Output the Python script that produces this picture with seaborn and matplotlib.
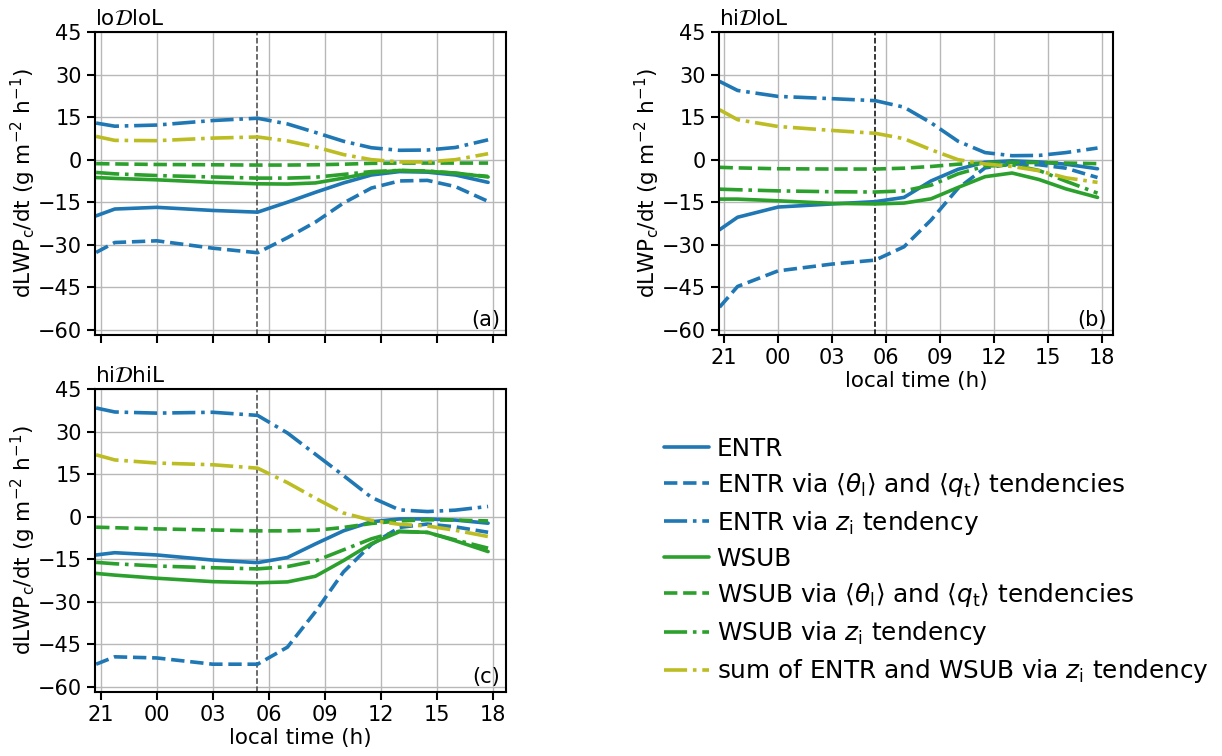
import matplotlib
matplotlib.use("Agg")
import matplotlib.pyplot as plt
import pandas as pd
import seaborn as sns

# Local time in hours since midnight of day 1 (24 = 00 h of day 2)
hours = [20.75, 21.75, 24, 27, 29.4, 31, 32.5, 34, 35.5, 37, 38.5, 40, 41.75]

# lo D lo L
a_entr = [-19.8, -17.4, -16.8, -17.9, -18.5, -15.0, -11.5, -8.2, -5.4, -4.2, -4.4, -5.4, -8.0]
a_entr_thq = [-32.7, -29.2, -28.6, -31.2, -32.8, -27.5, -22.0, -15.3, -10.0, -7.5, -7.3, -9.5, -14.7]
a_entr_zi = [12.9, 11.8, 12.2, 13.8, 14.6, 12.6, 9.6, 6.5, 4.2, 3.3, 3.4, 4.3, 7.0]
a_wsub = [-6.3, -6.6, -7.1, -8.0, -8.5, -8.6, -8.2, -6.5, -4.6, -3.8, -4.1, -4.7, -6.1]
a_wsub_thq = [-1.4, -1.5, -1.7, -1.8, -1.9, -1.9, -1.8, -1.6, -1.3, -1.2, -1.2, -1.2, -1.2]
a_wsub_zi = [-4.5, -5.0, -5.6, -6.1, -6.5, -6.5, -6.2, -5.2, -4.2, -3.8, -4.0, -4.8, -5.9]
a_sum_zi = [8.2, 6.8, 6.7, 7.6, 8.0, 6.6, 4.5, 1.8, 0.0, -0.8, -0.8, 0.0, 2.1]

# hi D lo L
b_entr = [-24.7, -20.3, -16.7, -15.6, -14.8, -13.3, -7.5, -3.4, -0.9, -0.4, -0.8, -1.6, -3.2]
b_entr_thq = [-52.0, -44.7, -39.2, -36.8, -35.4, -30.7, -21.3, -10.1, -2.9, -1.5, -1.8, -3.0, -6.3]
b_entr_zi = [27.6, 24.4, 22.3, 21.5, 20.8, 18.5, 13.0, 6.5, 2.5, 1.4, 1.5, 2.5, 4.1]
b_wsub = [-13.9, -13.9, -14.5, -15.4, -15.6, -15.3, -13.8, -9.8, -6.0, -4.7, -7.0, -10.3, -13.3]
b_wsub_thq = [-2.7, -2.9, -3.2, -3.3, -3.3, -3.0, -2.4, -1.6, -1.1, -1.0, -1.0, -1.2, -1.4]
b_wsub_zi = [-10.4, -10.6, -11.0, -11.3, -11.4, -11.0, -9.0, -5.0, -2.3, -1.8, -3.8, -7.6, -11.8]
b_sum_zi = [17.6, 14.1, 11.7, 10.3, 9.3, 7.4, 3.5, 0.0, -1.5, -2.4, -3.9, -6.4, -8.0]

# hi D hi L
c_entr = [-13.5, -12.7, -13.5, -15.3, -16.2, -14.4, -9.6, -5.0, -1.8, -0.8, -0.8, -1.2, -2.3]
c_entr_thq = [-52.0, -49.4, -49.8, -52.0, -52.0, -46.0, -33.5, -19.5, -9.8, -3.8, -2.6, -3.6, -5.5]
c_entr_zi = [38.3, 36.9, 36.5, 36.8, 35.7, 29.5, 22.0, 14.5, 6.8, 2.4, 1.8, 2.3, 3.6]
c_wsub = [-20.0, -20.6, -21.7, -22.9, -23.3, -23.0, -21.0, -15.5, -9.5, -5.3, -5.5, -8.5, -12.3]
c_wsub_thq = [-3.7, -3.9, -4.3, -4.7, -5.0, -5.0, -4.8, -3.8, -2.4, -1.5, -1.1, -1.2, -1.5]
c_wsub_zi = [-16.1, -16.6, -17.4, -18.0, -18.4, -17.6, -15.6, -11.7, -7.8, -5.1, -5.6, -8.2, -11.1]
c_sum_zi = [21.8, 20.0, 18.9, 18.3, 17.1, 12.0, 6.5, 1.3, -1.3, -2.7, -3.3, -4.8, -7.0]

sunrise = 29.36
xtick_pos = [21, 24, 27, 30, 33, 36, 39, 42]
xtick_labels = ["21", "00", "03", "06", "09", "12", "15", "18"]
ytick_pos = [-60, -45, -30, -15, 0, 15, 30, 45]

series_labels = [
    "ENTR",
    r"ENTR via $\langle\theta_\mathrm{l}\rangle$ and $\langle q_\mathrm{t}\rangle$ tendencies",
    r"ENTR via $z_\mathrm{i}$ tendency",
    "WSUB",
    r"WSUB via $\langle\theta_\mathrm{l}\rangle$ and $\langle q_\mathrm{t}\rangle$ tendencies",
    r"WSUB via $z_\mathrm{i}$ tendency",
    r"sum of ENTR and WSUB via $z_\mathrm{i}$ tendency",
]
series_colors = ["#1f77b4", "#1f77b4", "#1f77b4", "#2ca02c", "#2ca02c", "#2ca02c", "#bcbd22"]
series_styles = ["-", "--", "-.", "-", "--", "-.", "-."]

panels = [
    dict(title=r"lo$\mathcal{D}$loL", tag="(a)",
         data=[a_entr, a_entr_thq, a_entr_zi, a_wsub, a_wsub_thq, a_wsub_zi, a_sum_zi],
         rect=[95 / 1222, 1 - 335 / 756, 411 / 1222, 303 / 756], xlim=(20.69, 42.71),
         xlabels=False, vcolor="#444444"),
    dict(title=r"hi$\mathcal{D}$loL", tag="(b)",
         data=[b_entr, b_entr_thq, b_entr_zi, b_wsub, b_wsub_thq, b_wsub_zi, b_sum_zi],
         rect=[719 / 1222, 1 - 335 / 756, 394 / 1222, 303 / 756], xlim=(20.72, 42.61),
         xlabels=True, vcolor="black"),
    dict(title=r"hi$\mathcal{D}$hiL", tag="(c)",
         data=[c_entr, c_entr_thq, c_entr_zi, c_wsub, c_wsub_thq, c_wsub_zi, c_sum_zi],
         rect=[95 / 1222, 1 - 692 / 756, 411 / 1222, 303 / 756], xlim=(20.69, 42.71),
         xlabels=True, vcolor="#444444"),
]

sns.set_theme(context="notebook", style="ticks")
plt.rcParams.update({
    "font.family": ["DejaVu Sans"],
    "axes.unicode_minus": True,
    "axes.edgecolor": "black",
    "axes.linewidth": 1.5,
    "xtick.color": "black",
    "ytick.color": "black",
    "xtick.major.size": 6,
    "ytick.major.size": 6,
    "xtick.major.width": 1.5,
    "ytick.major.width": 1.5,
    "xtick.labelsize": 15,
    "ytick.labelsize": 15,
    "axes.labelsize": 15.5,
    "text.color": "black",
    "axes.labelcolor": "black",
})

fig = plt.figure(figsize=(12.22, 7.56), dpi=100)

for p in panels:
    ax = fig.add_axes(p["rect"])
    ax.grid(True, color="#b8b8b8", linewidth=1.0)
    ax.set_axisbelow(True)
    for vals, lab, col, ls in zip(p["data"], series_labels, series_colors, series_styles):
        df = pd.DataFrame({"time": hours, "value": vals})
        sns.lineplot(data=df, x="time", y="value", ax=ax, color=col, linestyle=ls,
                     linewidth=2.6, label=lab, estimator=None, legend=False)
    ax.axvline(sunrise, color=p["vcolor"], linestyle="--", linewidth=1.1, zorder=1)
    ax.set_xlim(*p["xlim"])
    ax.set_ylim(-61.8, 45)
    ax.set_xticks(xtick_pos)
    ax.set_yticks(ytick_pos)
    if p["xlabels"]:
        ax.set_xticklabels(xtick_labels)
        ax.set_xlabel("local time (h)", labelpad=2)
    else:
        ax.set_xticklabels([])
        ax.set_xlabel("")
    ax.set_ylabel(r"dLWP$_\mathrm{c}$/dt (g m$^{-2}$ h$^{-1}$)", labelpad=0)
    ax.set_title(p["title"], loc="left", fontsize=15.5, pad=5)
    ax.text(0.985, 0.015, p["tag"], transform=ax.transAxes, ha="right", va="bottom",
            fontsize=15)
    last_ax = ax

handles, labels = last_ax.get_legend_handles_labels()
fig.legend(handles, labels, loc="upper left", bbox_to_anchor=(0.5253, 0.452),
           frameon=False, fontsize=17.8, handlelength=1.82, labelspacing=0.41,
           handletextpad=0.3)

fig.savefig("out.png", dpi=100)
